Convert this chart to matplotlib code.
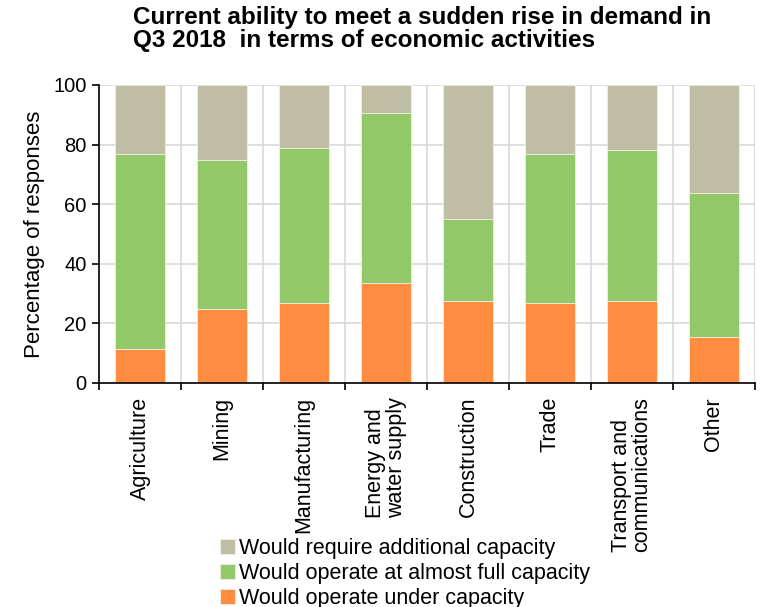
import matplotlib
matplotlib.use("Agg")
import matplotlib.pyplot as plt
import numpy as np
from matplotlib.ticker import FixedLocator

plt.rcParams['font.family'] = ['Liberation Sans', 'DejaVu Sans']

categories = ["Agriculture", "Mining", "Manufacturing", "Energy and\nwater supply",
              "Construction", "Trade", "Transport and\ncommunications", "Other"]
under_capacity = [11.4, 25.0, 26.8, 33.7, 27.4, 26.8, 27.4, 15.6]
almost_full = [65.5, 49.9, 52.0, 56.8, 27.8, 50.1, 50.9, 48.2]
additional = [100 - u - a for u, a in zip(under_capacity, almost_full)]

series_names = ["Would operate under capacity",
                "Would operate at almost full capacity",
                "Would require additional capacity"]
colors = ["#FF8C40", "#92C867", "#C0BDA5"]
title = "Current ability to meet a sudden rise in demand in\nQ3 2018  in terms of economic activities"

fig = plt.figure(figsize=(7.67, 6.07), dpi=100)
ax = fig.add_axes([99 / 767, 1 - 383 / 607, (755 - 99) / 767, (383 - 85) / 607])

x = np.arange(len(categories))
bottom = np.zeros(len(categories))
handles = []
for vals, col, name in zip([under_capacity, almost_full, additional], colors, series_names):
    h = ax.bar(x, vals, width=0.62, bottom=bottom, color=col, edgecolor="#F4F4EC",
               linewidth=0.5, label=name, zorder=3)
    handles.append(h)
    bottom += np.array(vals)

ax.set_xlim(-0.5, len(categories) - 0.5)
ax.set_ylim(0, 100)
ax.set_yticks(range(0, 101, 20))
ax.set_xticks(x)
ax.set_xticklabels(categories, rotation=90, ha="center", va="top",
                   multialignment="left", fontsize=15.5, linespacing=0.95)
ax.xaxis.set_minor_locator(FixedLocator(np.arange(-0.5, len(categories), 1.0)))
ax.tick_params(axis="x", which="major", length=0, pad=10)
ax.tick_params(axis="x", which="minor", length=5, width=1.2, direction="out", color="black")
ax.tick_params(axis="y", length=5, width=1.2, direction="out", labelsize=14.5, pad=4)

ax.grid(axis="y", color="#D9D9D9", linewidth=1.2, zorder=0)
ax.grid(axis="x", which="minor", color="#D9D9D9", linewidth=1.2, zorder=0)
ax.grid(axis="x", which="major", visible=False)
ax.set_axisbelow(True)

for side in ["top", "right"]:
    ax.spines[side].set_visible(False)
for side in ["left", "bottom"]:
    ax.spines[side].set_linewidth(1.2)
    ax.spines[side].set_zorder(5)

ax.set_ylabel("Percentage of responses", fontsize=16, labelpad=6)

fig.text(133 / 767, 1 - 6 / 607, title, ha="left", va="top", fontsize=17.5,
         fontweight="bold", linespacing=0.98)

fig.legend(handles[::-1], series_names[::-1], loc="upper left",
           bbox_to_anchor=(220 / 767, 1 - 538 / 607), frameon=False, fontsize=15.5,
           handlelength=0.7, handleheight=0.7, handletextpad=0.2, labelspacing=0.18,
           borderpad=0, borderaxespad=0)

fig.savefig("out.png", dpi=100)
